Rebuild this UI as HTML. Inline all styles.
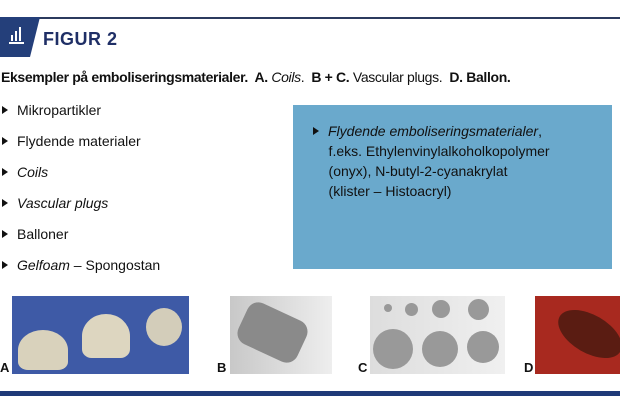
<!DOCTYPE html>
<html><head><meta charset="utf-8"><style>
body{margin:0;width:620px;height:403px;background:#fff;position:relative;overflow:hidden;font-family:"Liberation Sans Narrow","Liberation Sans",sans-serif;color:#111}
.a{position:absolute}
.b{position:absolute;left:2px;font-size:14px;white-space:nowrap}
.b:before{content:"";display:inline-block;width:0;height:0;border-left:6px solid #111;border-top:4px solid transparent;border-bottom:4px solid transparent;margin-right:9px;vertical-align:1px}
.lab{position:absolute;font-weight:bold;font-size:13px;top:360px}
</style></head><body>
<div class="a" style="left:38px;top:17px;width:582px;height:2px;background:#2b3a5e"></div>
<svg class="a" style="left:0;top:17px" width="40" height="40"><polygon points="0,0 40,0 30,40 0,40" fill="#243f7a"/>
<g fill="#fff"><rect x="11" y="18" width="2" height="6"/><rect x="15" y="14" width="2" height="10"/><rect x="19" y="10" width="2" height="14"/><rect x="9" y="25" width="15" height="2"/></g></svg>
<div class="a" style="left:43px;top:29px;font-size:18px;font-weight:bold;color:#1f2f66;letter-spacing:.5px">FIGUR 2</div>
<div class="a" style="left:1px;top:69px;font-size:14px;letter-spacing:-0.35px;white-space:nowrap"><b>Eksempler på emboliseringsmaterialer.&nbsp; A.</b> <i>Coils</i>.&nbsp; <b>B + C.</b> Vascular plugs.&nbsp; <b>D. Ballon.</b></div>
<div class="b" style="top:102px">Mikropartikler</div>
<div class="b" style="top:133px">Flydende materialer</div>
<div class="b" style="top:164px"><i>Coils</i></div>
<div class="b" style="top:195px"><i>Vascular plugs</i></div>
<div class="b" style="top:226px">Balloner</div>
<div class="b" style="top:257px"><i>Gelfoam</i> – Spongostan</div>
<div class="a" style="left:293px;top:105px;width:319px;height:164px;background:#6aa9cc"></div>
<div class="b" style="left:313px;top:121px;font-size:14px;line-height:20px;white-space:normal;width:290px"><i>Flydende emboliseringsmaterialer</i>, <br>&nbsp;&nbsp;&nbsp;&nbsp;f.eks. Ethylenvinylalkoholkopolymer<br>&nbsp;&nbsp;&nbsp;&nbsp;(onyx), N-butyl-2-cyanakrylat<br>&nbsp;&nbsp;&nbsp;&nbsp;(klister – Histoacryl)</div>
<div class="a" style="left:12px;top:296px;width:177px;height:78px;background:#3e5aa6"></div>
<div class="a" style="left:18px;top:330px;width:50px;height:40px;border-radius:50% 50% 20% 20%;background:#d9d2bc"></div>
<div class="a" style="left:82px;top:314px;width:48px;height:44px;border-radius:50% 50% 20% 20%;background:#ddd6c0"></div>
<div class="a" style="left:146px;top:308px;width:36px;height:38px;border-radius:50%;background:#d3cdba"></div>
<div class="a" style="left:230px;top:296px;width:102px;height:78px;background:linear-gradient(90deg,#c8c8c8,#eee)"></div>
<div class="a" style="left:240px;top:310px;width:65px;height:45px;border-radius:12px;background:#8a8a8a;transform:rotate(25deg)"></div>
<div class="a" style="left:370px;top:296px;width:135px;height:78px;background:linear-gradient(90deg,#ddd,#f0f0f0)"></div>
<div class="a" style="left:384px;top:304px;width:8px;height:8px;border-radius:50%;background:#999"></div>
<div class="a" style="left:405px;top:303px;width:13px;height:13px;border-radius:50%;background:#999"></div>
<div class="a" style="left:432px;top:300px;width:18px;height:18px;border-radius:50%;background:#999"></div>
<div class="a" style="left:468px;top:299px;width:21px;height:21px;border-radius:50%;background:#999"></div>
<div class="a" style="left:373px;top:329px;width:40px;height:40px;border-radius:50%;background:#999"></div>
<div class="a" style="left:422px;top:331px;width:36px;height:36px;border-radius:50%;background:#999"></div>
<div class="a" style="left:467px;top:331px;width:32px;height:32px;border-radius:50%;background:#999"></div>
<div class="a" style="left:535px;top:296px;width:85px;height:78px;background:#a8291f"></div>
<div class="a" style="left:555px;top:315px;width:70px;height:38px;border-radius:50%;background:#5a1c12;transform:rotate(30deg)"></div>
<div class="lab" style="left:0">A</div><div class="lab" style="left:217px">B</div><div class="lab" style="left:358px">C</div><div class="lab" style="left:524px">D</div>
<div class="a" style="left:0;top:391px;width:620px;height:5px;background:#1f3a78"></div>
</body></html>
